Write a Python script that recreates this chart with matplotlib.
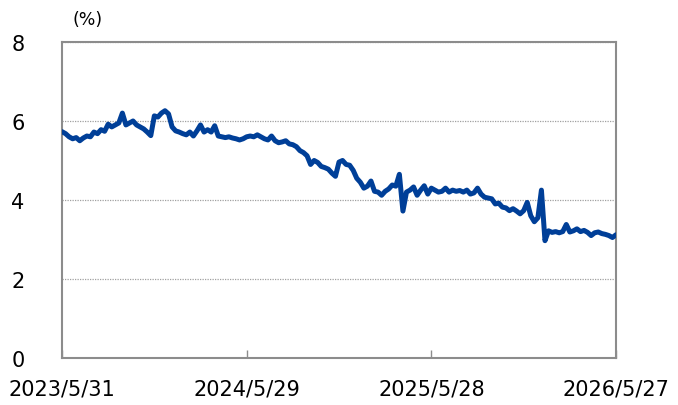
import numpy as np
import pandas as pd
import matplotlib
matplotlib.use("Agg")
import matplotlib.pyplot as plt
import matplotlib.dates as mdates

# weekly readings (%), first point 2023/5/31
values = [
    5.73, 5.68, 5.60, 5.55, 5.58, 5.50, 5.57, 5.62, 5.60, 5.72,
    5.68, 5.78, 5.74, 5.92, 5.85, 5.90, 5.95, 6.20, 5.90, 5.95,
    6.00, 5.90, 5.85, 5.80, 5.72, 5.63, 6.13, 6.10, 6.20, 6.26,
    6.18, 5.85, 5.75, 5.72, 5.68, 5.65, 5.72, 5.62, 5.75, 5.90,
    5.72, 5.78, 5.72, 5.88, 5.62, 5.60, 5.58, 5.60, 5.57, 5.55,
    5.52, 5.55, 5.60, 5.62, 5.60, 5.65, 5.60, 5.55, 5.52, 5.62,
    5.50, 5.45, 5.47, 5.50, 5.42, 5.40, 5.35, 5.25, 5.20, 5.12,
    4.90, 5.00, 4.95, 4.85, 4.82, 4.78, 4.68, 4.60, 4.96, 5.00,
    4.90, 4.88, 4.75, 4.55, 4.45, 4.30, 4.35, 4.48, 4.22, 4.20,
    4.12, 4.22, 4.28, 4.38, 4.35, 4.65, 3.72, 4.20, 4.25, 4.33,
    4.12, 4.25, 4.36, 4.15, 4.30, 4.25, 4.20, 4.22, 4.30, 4.20,
    4.25, 4.22, 4.24, 4.20, 4.25, 4.15, 4.18, 4.30, 4.15, 4.07,
    4.05, 4.03, 3.90, 3.92, 3.82, 3.80, 3.73, 3.78, 3.72, 3.65,
    3.73, 3.94, 3.60, 3.45, 3.55, 4.25, 2.97, 3.22, 3.18, 3.20,
    3.17, 3.20, 3.38, 3.19, 3.22, 3.27, 3.20, 3.23, 3.18, 3.10,
    3.17, 3.19, 3.15, 3.13, 3.10, 3.05, 3.12,
]
dates = pd.date_range("2023-05-31", periods=len(values), freq="7D")
tick_dates = pd.to_datetime(["2023-05-31", "2024-05-29", "2025-05-28", "2026-05-27"])
y_ticks = [0, 2, 4, 6, 8]

fig = plt.figure(figsize=(6.78, 4.06), dpi=100)
ax = fig.add_axes([62 / 678, 1 - 359 / 406, 554 / 678, 316 / 406])

ax.plot(dates, values, color="#003f98", lw=3.6, solid_capstyle="round",
        solid_joinstyle="round", zorder=3)

ax.set_xlim(tick_dates[0], tick_dates[-1])
ax.set_ylim(0, 8)
ax.set_yticks(y_ticks)
ax.set_yticklabels([str(v) for v in y_ticks])
ax.set_xticks(tick_dates)
ax.set_xticklabels([f"{d.year}/{d.month}/{d.day}" for d in tick_dates])

for s in ax.spines.values():
    s.set_color("#8c8c8c")
    s.set_linewidth(1.5)

ax.grid(axis="y", color="#a0a0a0", linestyle=(0, (1, 1)), linewidth=0.9)
ax.tick_params(axis="y", length=0, pad=27, labelsize=15)
ax.tick_params(axis="x", direction="in", length=6, width=1, color="#8c8c8c",
               pad=15, labelsize=15)

fig.text(72 / 678, 1 - 20 / 406, "(%)", fontsize=12.5, va="center", ha="left")

fig.savefig("out.png", dpi=100)
